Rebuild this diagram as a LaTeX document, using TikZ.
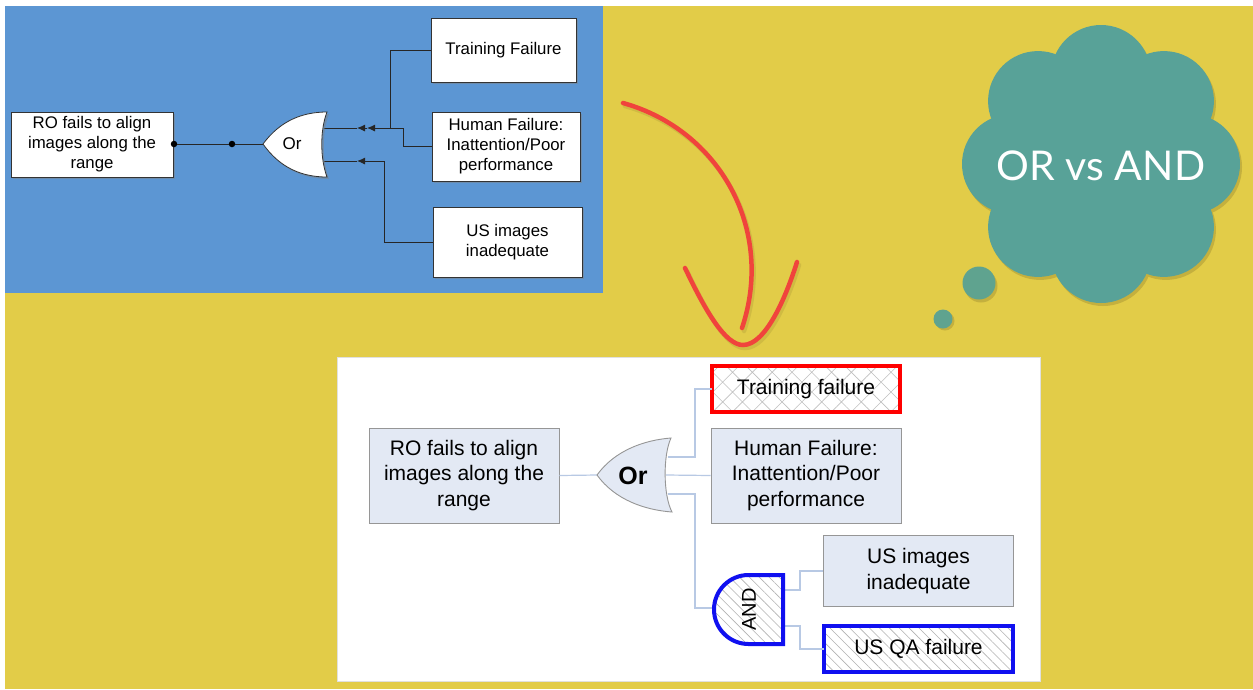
\documentclass[tikz,border=0pt]{standalone}
\usepackage{fontspec}
\setmainfont{Liberation Sans}
\newfontfamily\latofont{Lato}
\usetikzlibrary{shadows,patterns.meta,arrows.meta}
\definecolor{bgyellow}{RGB}{226,204,72}
\definecolor{bgshadow}{RGB}{196,176,62}
\definecolor{topblue}{RGB}{92,150,211}
\definecolor{cloudteal}{RGB}{88,162,152}
\definecolor{bubteal}{RGB}{95,163,143}
\definecolor{boxfill}{RGB}{227,233,244}
\definecolor{boxline}{RGB}{150,150,150}
\definecolor{conn}{RGB}{184,201,228}
\definecolor{redarrow}{RGB}{240,68,60}
\definecolor{andblue}{RGB}{16,16,240}
\begin{document}
\begin{tikzpicture}[x=1pt,y=-1pt,
  topbox/.style={draw=black!80, fill=white, line width=0.8pt,
    drop shadow={opacity=0.45,shadow xshift=2pt,shadow yshift=-2pt},
    align=center, font=\fontsize{16.8}{20}\selectfont, inner sep=0pt},
  topline/.style={draw=black!85, line width=0.9pt},
  toptip/.style={-{Latex[length=8pt,width=7pt]}},
  botbox/.style={draw=boxline, fill=boxfill, line width=0.9pt, align=center,
    font=\fontsize{21}{25.5}\selectfont, inner sep=0pt},
  botline/.style={draw=conn, line width=1.2pt},
  dotmark/.style={circle, fill=black, inner sep=0pt, minimum size=6.5pt},
  redstroke/.style={draw=redarrow, line width=4.5pt, line cap=round},
]
\useasboundingbox (0,0) rectangle (1253,689);
% backgrounds
\fill[white] (0,0) rectangle (1253,689);
\fill[bgyellow] (5,6) rectangle (1253,689);
\fill[topblue] (5,6) rectangle (603,293);
\filldraw[fill=white, draw=black!12, line width=0.8pt] (337,357) rectangle (1040,681);

% ---------------- top diagram ----------------
\node[topbox, minimum width=162pt, minimum height=65pt] (ro1) at (92,144.5) {RO fails to align\\images along the\\range};
\node[topbox, minimum width=145pt, minimum height=64pt] (tf1) at (503.5,50) {Training Failure};
\node[topbox, minimum width=148pt, minimum height=69pt] (hf1) at (506,146.5) {Human Failure:\\Inattention/Poor\\performance};
\node[topbox, minimum width=149pt, minimum height=70pt] (us1) at (507.5,242) {US images\\inadequate};

\coordinate (or1out) at (263,144);
\coordinate (or1inA) at (324,128);
\coordinate (or1inB) at (324,161);
\coordinate (j1) at (390,128);
\coordinate (j2) at (403,128);
\coordinate (j3) at (384,161);
\coordinate (a1) at (367,128);
\coordinate (a2) at (357,128);
\coordinate (a3) at (357,161);

\node[dotmark] (d1) at (174,144) {};
\node[dotmark] (d2) at (232,144) {};
\draw[topline] (d1) -- (d2) -- (or1out);

\draw[topline] (tf1.west) -| (j1);
\draw[topline] (j2) |- (hf1.west);
\draw[topline] (j2) -- (j1);
\draw[topline, toptip] (j1) -- (a1);
\draw[topline, toptip] (a1) -- (a2);
\draw[topline] (a2) -- (or1inA);
\draw[topline] (us1.west) -| (j3);
\draw[topline, toptip] (j3) -- (a3);
\draw[topline] (a3) -- (or1inB);

\filldraw[fill=white, draw=black!80, line width=0.8pt,
  drop shadow={opacity=0.45,shadow xshift=2pt,shadow yshift=-2pt}]
  (263,144) .. controls (280,121) and (302,112) .. (327,112)
  .. controls (320,130) and (320,158) .. (327,177)
  .. controls (302,177) and (280,168) .. (263,144) -- cycle;
\node[font=\fontsize{17}{20}\selectfont] (or1) at (292,144) {Or};

% ---------------- red arrow ----------------
\begin{scope}[shift={(2,3)}]
\draw[draw=bgshadow, line width=4.5pt, line cap=round, opacity=0.6]
  (623,103) .. controls (720,130) and (775,230) .. (742,328);
\draw[draw=bgshadow, line width=4.5pt, line cap=round, opacity=0.6]
  (685,268) .. controls (705,310) and (725,345) .. (743,345)
  .. controls (765,345) and (785,300) .. (797,262);
\end{scope}
\draw[redstroke] (623,103) .. controls (720,130) and (775,230) .. (742,328);
\draw[redstroke] (685,268) .. controls (705,310) and (725,345) .. (743,345)
  .. controls (765,345) and (785,300) .. (797,262);

% ---------------- cloud ----------------
\begin{scope}[shift={(1103,167)}]
  \foreach \a in {0,45,...,315} \fill[bgshadow] (\a:89) circle (50);
  \fill[bgshadow] (0,0) circle (95);
\end{scope}
\begin{scope}[shift={(1101,164)}]
  \foreach \a in {0,45,...,315} \fill[cloudteal] (\a:89) circle (50);
  \fill[cloudteal] (0,0) circle (95);
\end{scope}
\node[text=white, font=\latofont\fontsize{41}{45}\selectfont] (cloudtxt) at (1101,166) {OR vs AND};
\fill[bgshadow] (981,286) circle (16.5);
\fill[bubteal] (979,283) circle (16.5);
\fill[bgshadow] (945,321) circle (9.5);
\fill[bubteal] (943,319) circle (9.5);

% ---------------- bottom diagram ----------------
\node[botbox, minimum width=190pt, minimum height=95pt] (ro2) at (464,475.5) {RO fails to align\\images along the\\range};
\node[botbox, minimum width=190pt, minimum height=95pt] (hf2) at (806,475.5) {Human Failure:\\Inattention/Poor\\performance};
\node[draw=red, line width=4pt, pattern={Hatch[angle=45,distance=14pt,line width=0.6pt]}, pattern color=black!25,
  minimum width=188pt, minimum height=46pt, font=\fontsize{21}{25}\selectfont, inner sep=0pt] (tf2) at (806,389) {Training failure};
\node[botbox, minimum width=190pt, minimum height=71pt] (us2) at (918.5,571) {US images\\inadequate};
\node[draw=andblue, line width=4pt, pattern={Lines[angle=-45,distance=7pt,line width=0.6pt]}, pattern color=black!30,
  minimum width=189pt, minimum height=46pt, font=\fontsize{21}{25}\selectfont, inner sep=0pt] (qa2) at (918.5,649) {US QA failure};

\coordinate (or2out) at (597,475);
\coordinate (or2inA) at (668,457);
\coordinate (or2inC) at (666,475);
\coordinate (or2inB) at (668,494);
\coordinate (j4) at (695,457);
\coordinate (j5) at (695,494);
\coordinate (and2in) at (714,608);
\coordinate (and2outA) at (783,590);
\coordinate (and2outB) at (783,626);
\coordinate (j6) at (800,590);
\coordinate (j7) at (800,626);

\draw[botline] (ro2.east) -- (or2out);
\draw[botline] (or2inA) -- (j4) |- (tf2.west);
\draw[botline] (or2inC) -- (hf2.west);
\draw[botline] (or2inB) -- (j5) |- (and2in);
\draw[botline] (and2outA) -- (j6) |- (us2.west);
\draw[botline] (and2outB) -- (j7) |- (qa2.west);

\filldraw[fill=boxfill, draw=boxline, line width=0.9pt]
  (597,475) .. controls (615,450) and (645,440) .. (671,438)
  .. controls (663,455) and (663,495) .. (672,512)
  .. controls (645,510) and (615,500) .. (597,475) -- cycle;
\node[font=\bfseries\fontsize{25}{28}\selectfont] (or2) at (633,476) {Or};

\path[fill=white] (783,575) -- (748.5,575) arc[start angle=-90,end angle=-270,radius=34.5] -- (783,644) -- cycle;
\path[pattern={Lines[angle=-45,distance=7pt,line width=0.6pt]}, pattern color=black!30] (783,575) -- (748.5,575) arc[start angle=-90,end angle=-270,radius=34.5] -- (783,644) -- cycle;
\draw[draw=andblue, line width=4pt] (783,575) -- (748.5,575) arc[start angle=-90,end angle=-270,radius=34.5] -- (783,644) -- cycle;
\node[rotate=90, font=\fontsize{20}{22}\selectfont] (and2) at (749,609.5) {AND};
\end{tikzpicture}
\end{document}
